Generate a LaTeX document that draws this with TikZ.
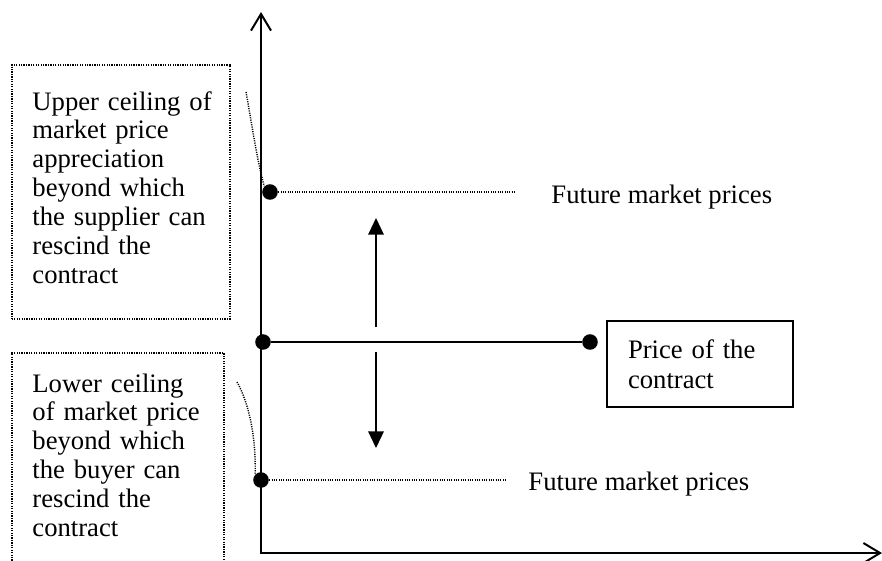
\documentclass[tikz,border=0pt]{standalone}
\usepackage{fontspec}
\setmainfont{Liberation Serif}
\usetikzlibrary{arrows.meta}
\begin{document}
\begin{tikzpicture}[x=0.45pt,y=-0.45pt,
  txt/.style={inner sep=0pt, anchor=base west, font=\fontsize{12}{13}\selectfont},
  mtxt/.style={txt, align=left, text width=#1},
  dotbox/.style={draw, line width=0.7pt, dash pattern=on 0.55pt off 0.55pt, anchor=north west, inner sep=0pt},
  dot/.style={circle, fill, inner sep=0pt, minimum size=7pt},
  axis/.style={line width=0.9pt, line join=miter, {Straight Barb[length=7.5pt, width=9pt, line width=0.9pt]}-{Straight Barb[length=7.5pt, width=9pt, line width=0.9pt]}},
  dline/.style={line width=0.65pt, dash pattern=on 0.5pt off 0.55pt},
  mvarrow/.style={line width=0.7pt, -{Triangle[length=7.5pt, width=7pt]}},
  pricebox/.style={draw, line width=0.9pt, anchor=north west, align=left, inner xsep=9.45pt, inner ysep=0pt, text width=64.8pt, minimum height=38.7pt, font=\fontsize{12}{13.5}\selectfont},
]
\useasboundingbox (0,0) rectangle (882,560);
\clip (0,0) rectangle (882,560);

% axes
\coordinate (ytip) at (261,12);
\coordinate (o) at (261,553);
\coordinate (xtip) at (882,553);
\draw[axis] (ytip) -- (o) -- (xtip);

% dots
\node[dot] (udot) at (270,192) {};
\node[dot] (mdot) at (263,342) {};
\node[dot] (edot) at (590,342) {};
\node[dot] (ldot) at (261,480) {};

% price line and box
\draw[line width=0.9pt] (mdot) -- (edot);
\node[pricebox] (pbox) at (606,320) {Price of the\\contract};

% future market prices
\coordinate (uend) at (515,192);
\coordinate (lend) at (507,480);
\draw[dline] (udot) -- (uend);
\draw[dline] (ldot) -- (lend);
\node[txt] (ufmp) at (551,203) {Future market prices};
\node[txt] (lfmp) at (528,490) {Future market prices};

% vertical arrows
\coordinate (aup0) at (376,327);
\coordinate (aup1) at (376,218);
\coordinate (adn0) at (376,352);
\coordinate (adn1) at (376,448);
\draw[mvarrow] (aup0) -- (aup1);
\draw[mvarrow] (adn0) -- (adn1);

% dotted boxes
\node[dotbox, minimum width=98.1pt, minimum height=114.3pt] (ubox) at (11,64) {};
\node[mtxt=90pt] (utext) at (32,110) {Upper ceiling of\\market price\\appreciation\\beyond which\\the supplier can\\rescind the\\contract};
\node[dotbox, minimum width=95.4pt, minimum height=99pt] (lbox) at (11,352) {};
\node[mtxt=88pt] (ltext) at (32,392) {Lower ceiling\\of market price\\beyond which\\the buyer can\\rescind the\\contract};

% dotted pointers
\coordinate (uc) at (246,92);
\coordinate (lc) at (237,382);
\draw[dline] (uc) .. controls (252,125) and (257,160) .. (udot.north west);
\draw[dline] (lc) .. controls (250,405) and (256,440) .. (ldot.north west);
\end{tikzpicture}
\end{document}
